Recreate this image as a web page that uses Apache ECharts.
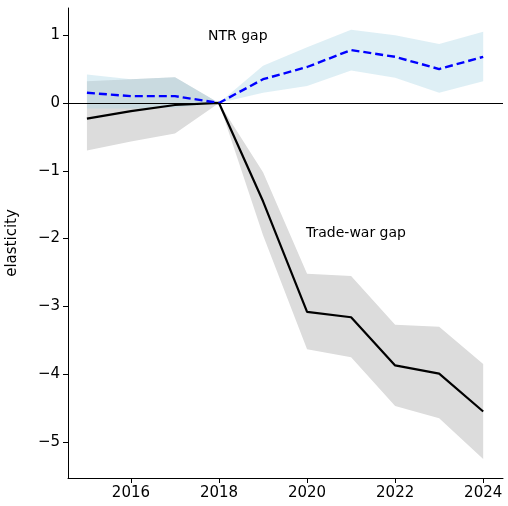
<!DOCTYPE html>
<html><head><meta charset="utf-8">
<script src="https://cdn.jsdelivr.net/npm/echarts@6/dist/echarts.min.js"></script>
<style>html,body{margin:0;padding:0;background:#fff}#c{width:508px;height:506px}</style>
</head><body><div id="c"></div>
<script>
const years=[2015,2016,2017,2018,2019,2020,2021,2022,2023,2024];
const ntr=[0.15,0.10,0.10,0,0.35,0.53,0.78,0.68,0.50,0.68];
const ntrLo=[-0.08,-0.08,-0.07,0,0.15,0.25,0.48,0.37,0.15,0.32];
const ntrHi=[0.42,0.35,0.38,0,0.55,0.82,1.08,1.00,0.87,1.05];
const tw=[-0.23,-0.12,-0.03,0,-1.45,-3.08,-3.16,-3.87,-3.99,-4.55];
const twLo=[-0.70,-0.57,-0.45,0,-1.95,-3.63,-3.75,-4.47,-4.65,-5.25];
const twHi=[0.32,0.35,0.38,0,-1.02,-2.52,-2.55,-3.27,-3.30,-3.85];
const xTicks=[2016,2018,2020,2022,2024];
const yTicks=[-5,-4,-3,-2,-1,0,1];
const pair=a=>a.map((v,i)=>[years[i],v]);
const font='DejaVu Sans';
const band=(lo,hi,color)=>({
 type:'custom',silent:true,z:1,data:[0],
 renderItem:(params,api)=>{
  const pts=[];
  years.forEach((y,i)=>pts.push(api.coord([y,hi[i]])));
  for(let i=years.length-1;i>=0;i--)pts.push(api.coord([years[i],lo[i]]));
  return {type:'polygon',shape:{points:pts},style:{fill:color}};
 }
});
const chart=echarts.init(document.getElementById('c'));
chart.setOption({
 animation:false,
 grid:{left:68,right:5,top:8,bottom:28,containLabel:false,outerBoundsMode:'none'},
 xAxis:{type:'value',min:2014.57,max:2024.45,splitLine:{show:false},
  axisLine:{onZero:false,lineStyle:{color:'#000'}},
  axisTick:{customValues:xTicks,length:5,lineStyle:{color:'#000'}},
  axisLabel:{customValues:xTicks,color:'#000',fontSize:15,fontFamily:font,formatter:v=>String(v)}},
 yAxis:{type:'value',min:-5.53,max:1.4,splitLine:{show:false},
  name:'elasticity',nameLocation:'middle',nameGap:48,nameTextStyle:{color:'#000',fontSize:15,fontFamily:font},
  axisLine:{show:true,onZero:false,lineStyle:{color:'#000'}},
  axisTick:{show:true,customValues:yTicks,length:5,lineStyle:{color:'#000'}},
  axisLabel:{customValues:yTicks,color:'#000',fontSize:15,fontFamily:font,formatter:v=>v<0?'\u2212'+Math.abs(v):String(v)}},
 series:[
  band(twLo,twHi,'#dcdcdc'),
  band(ntrLo,ntrHi,'rgba(173,216,230,0.4)'),
  {type:'line',data:pair(tw),symbol:'none',lineStyle:{color:'#000',width:2.2},z:3,
   markLine:{silent:true,symbol:'none',label:{show:false},lineStyle:{color:'#000',width:1,type:'solid'},data:[{yAxis:0}]}},
  {type:'line',data:pair(ntr),symbol:'none',lineStyle:{color:'#0000ff',width:2.4,type:[8,4]},z:4}
 ],
 graphic:[
  {type:'text',left:208,top:29,style:{text:'NTR gap',fontSize:14,fontFamily:font,fill:'#000'}},
  {type:'text',left:306,top:226,style:{text:'Trade-war gap',fontSize:14,fontFamily:font,fill:'#000'}}
 ]
});
</script></body></html>
